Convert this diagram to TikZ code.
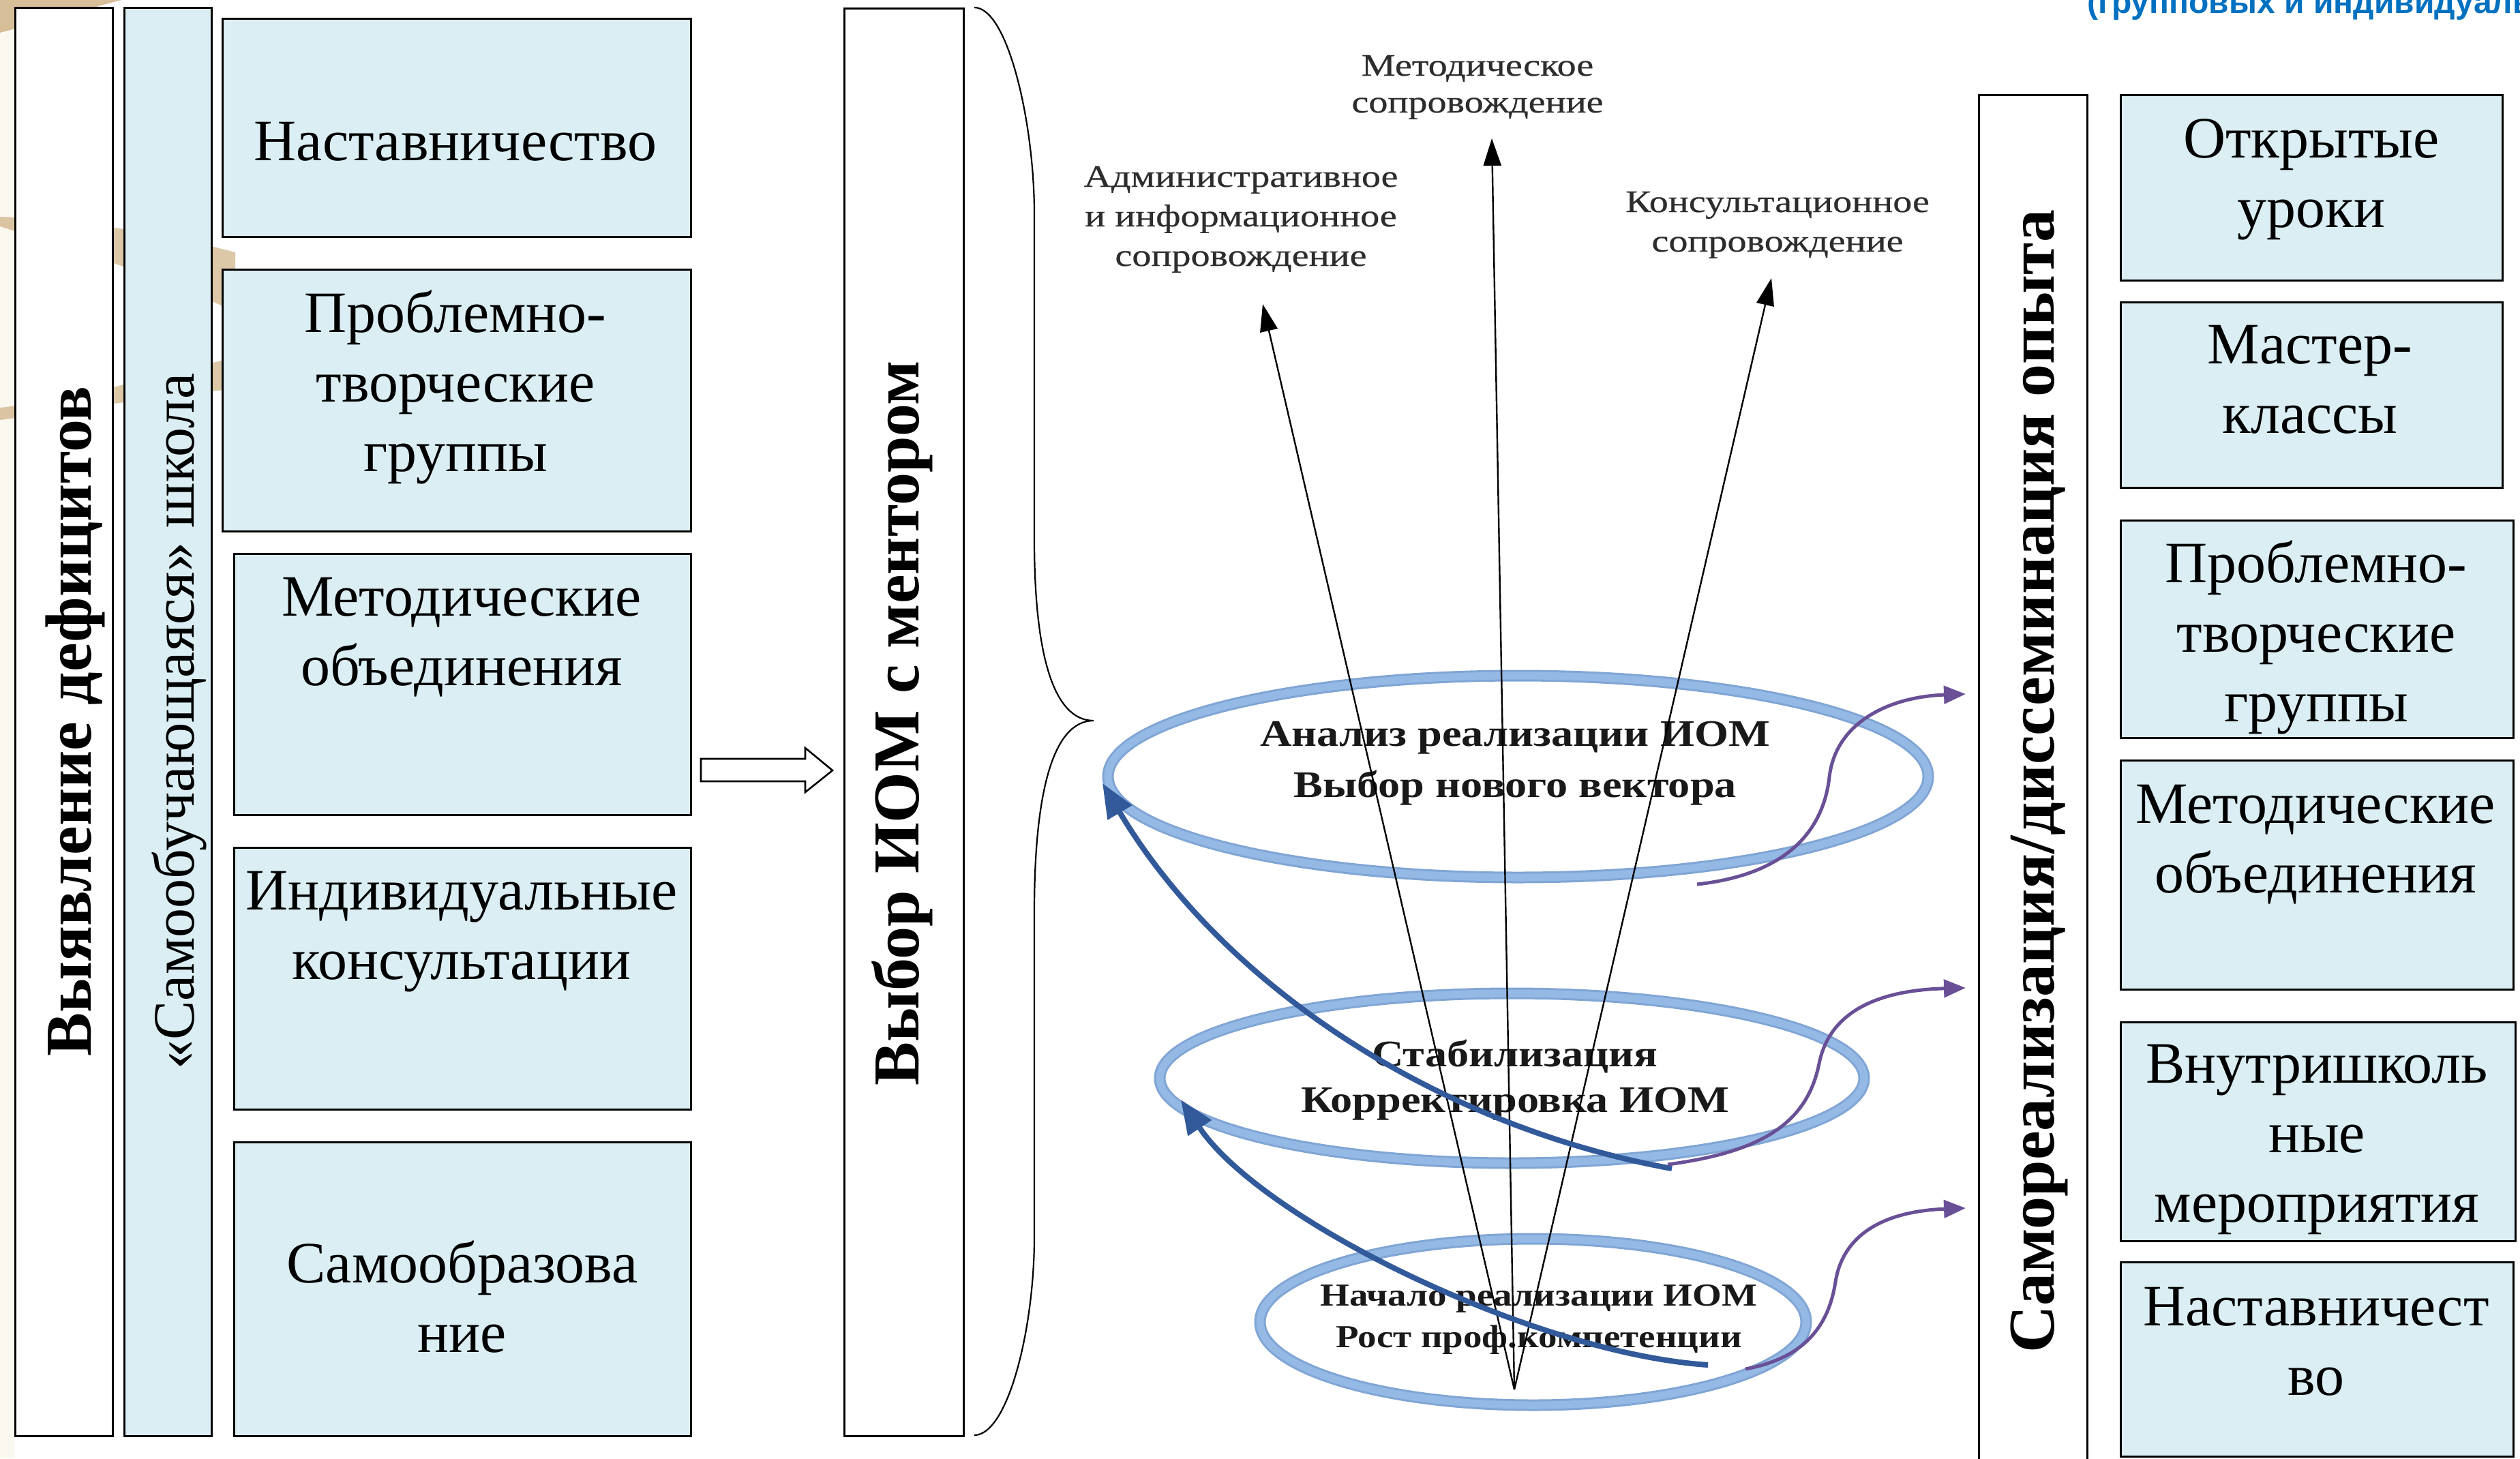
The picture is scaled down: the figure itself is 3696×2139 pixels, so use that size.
\documentclass[tikz,border=0pt]{standalone}
\usepackage{fontspec}
\setmainfont{Liberation Serif}
\newfontfamily\lblfont{Liberation Serif}[FakeStretch=1.22,FakeBold=0.5]
\newfontfamily\ringfont{Liberation Serif}[FakeStretch=1.17]
\newfontfamily\bluefont{Liberation Sans}
\usetikzlibrary{arrows.meta}
\definecolor{boxfill}{HTML}{DAEEF3}
\definecolor{ringdark}{RGB}{128,165,213}
\definecolor{ringlight}{RGB}{148,185,229}
\definecolor{arrblue}{RGB}{50,90,155}
\definecolor{arrpurple}{RGB}{105,80,150}
\definecolor{bgtan}{RGB}{205,175,128}
\definecolor{bgcream}{RGB}{251,248,240}
\definecolor{titleblue}{HTML}{0070C0}
\definecolor{lblgray}{RGB}{45,45,45}
\definecolor{ringtextc}{RGB}{25,25,25}
\begin{document}
\begin{tikzpicture}[x=1pt,y=-1pt,
  bluebox/.style={draw=black, line width=2.6, fill=boxfill, inner sep=0, anchor=north west},
  whitebox/.style={draw=black, line width=2.6, fill=white, inner sep=0, anchor=north west},
  boxtext/.style={font=\fontsize{86}{102}\selectfont, align=center, inner sep=0, anchor=base},
  vbold/.style={font=\bfseries\fontsize{96}{110}\selectfont, rotate=90, anchor=base, inner sep=0},
  vreg/.style={font=\fontsize{86}{100}\selectfont, rotate=90, anchor=base, inner sep=0},
  lbl/.style={font=\lblfont\fontsize{46}{58}\selectfont, text=lblgray, align=center, inner sep=0, anchor=base},
  ringtxt/.style={font=\ringfont\bfseries\fontsize{55}{75}\selectfont, text=ringtextc, align=center, inner sep=0, anchor=base},
  thinarrow/.style={draw=black, line width=2.4, -{Triangle[length=40pt,width=26pt]}},
  bluearrow/.style={draw=arrblue, line width=8, -{Triangle[length=50pt,width=40pt]}},
  purplearrow/.style={draw=arrpurple, line width=5, -{Triangle[length=32pt,width=26pt]}},
  ringdraw/.style={draw=ringdark, line width=17},
  ringinner/.style={draw=ringlight, line width=11}
]
\useasboundingbox (0,0) rectangle (3696,2139);
\clip (0,0) rectangle (3696,2139);

% background decoration
\fill[bgcream] (0,40) rectangle (21,2139);
\fill[bgtan, opacity=0.8] (0,0) -- (178,0) -- (0,48) -- cycle;
\fill[bgtan, opacity=0.7] (0,318) .. controls (120,322) and (250,345) .. (345,370) -- (345,458) .. controls (250,410) and (120,370) .. (0,332) -- cycle;
\fill[bgtan, opacity=0.7] (0,598) .. controls (120,585) and (250,545) .. (330,528) -- (330,572) .. controls (250,578) and (120,600) .. (0,616) -- cycle;

% left column
\node[whitebox, minimum width=143, minimum height=2095] (boxA) at (21,10) {};
\node[bluebox, minimum width=128, minimum height=2095] (boxB) at (181,10) {};
\node[bluebox, minimum width=687, minimum height=320] (L1) at (325,26) {};
\node[bluebox, minimum width=687, minimum height=384] (L2) at (325,394) {};
\node[bluebox, minimum width=670, minimum height=383] (L3) at (342,811) {};
\node[bluebox, minimum width=670, minimum height=384] (L4) at (342,1242) {};
\node[bluebox, minimum width=670, minimum height=431] (L5) at (342,1674) {};

\node[vbold] (tA) at (133,1058) {Выявление дефицитов};
\node[vreg] (tB) at (284,1058) {«Самообучающаяся» школа};

% (anchor=base of a multi-line node = baseline of its last line)
\node[boxtext] (tL1) at (668,235) {Наставничество};
\node[boxtext] (tL2) at (668,691) {Проблемно-\\творческие\\группы};
\node[boxtext] (tL3) at (677,1005) {Методические\\объединения};
\node[boxtext] (tL4) at (677,1436) {Индивидуальные\\консультации};
\node[boxtext] (tL5) at (678,1983) {Самообразова\\ние};

% hollow arrow
\draw[line width=2.6, fill=white, line join=miter] (1028,1113) -- (1181,1113) -- (1181,1097) -- (1221,1130) -- (1181,1162) -- (1181,1146) -- (1028,1146) -- cycle;

% middle box
\node[whitebox, minimum width=175, minimum height=2094] (boxM) at (1237,11) {};
\node[vbold] (tM) at (1347,1061) {Выбор ИОМ с ментором};

% brace
\draw[line width=2.2] (1429,11) .. controls (1478,11) and (1517,180) .. (1517,314) -- (1517,791)
  .. controls (1517,960) and (1545,1057) .. (1604,1057)
  .. controls (1545,1057) and (1517,1160) .. (1517,1337) -- (1517,1814)
  .. controls (1517,1950) and (1478,2105) .. (1429,2105);

% rings
\draw[ringdraw] (2226.5,1139) ellipse [x radius=601.5, y radius=148];
\draw[ringinner] (2226.5,1139) ellipse [x radius=601.5, y radius=148];
\draw[ringdraw] (2217.5,1581.5) ellipse [x radius=516.5, y radius=124.5];
\draw[ringinner] (2217.5,1581.5) ellipse [x radius=516.5, y radius=124.5];
\draw[ringdraw] (2248.5,1939) ellipse [x radius=400.5, y radius=122];
\draw[ringinner] (2248.5,1939) ellipse [x radius=400.5, y radius=122];

% ring texts
\node[ringtxt] (r1) at (2222,1169) {Анализ реализации ИОМ\\Выбор нового вектора};
\node[ringtxt, font=\ringfont\bfseries\fontsize{55}{67}\selectfont] (r2) at (2222,1631) {Стабилизация\\Корректировка ИОМ};
\node[ringtxt, font=\ringfont\bfseries\fontsize{47}{61}\selectfont] (r3) at (2257,1976) {Начало реализации ИОМ\\Рост проф.компетенции};

% top labels
\node[lbl, font=\lblfont\fontsize{46}{54}\selectfont] (lblM) at (2167,165) {Методическое\\сопровождение};
\node[lbl] (lblA) at (1820,390) {Административное\\и информационное\\сопровождение};
\node[lbl] (lblK) at (2607,369) {Консультационное\\сопровождение};

% thin arrows
\coordinate (apex) at (2221,2038);
\coordinate (tipL) at (1852,446);
\coordinate (tipM) at (2188,203);
\coordinate (tipR) at (2598,408);
\draw[thinarrow] (apex) -- (tipL);
\draw[thinarrow] (apex) -- (tipM);
\draw[thinarrow] (apex) -- (tipR);

% blue arrows
\coordinate (b1s) at (2452,1714);
\coordinate (b1e) at (1617,1149);
\coordinate (b2s) at (2505,2002);
\coordinate (b2e) at (1732,1613);
\draw[bluearrow] (b1s) .. controls (2100,1650) and (1790,1440) .. (b1e);
\draw[bluearrow] (b2s) .. controls (2250,1985) and (1850,1790) .. (b2e);

% purple arrows
\coordinate (p1s) at (2489,1297);
\coordinate (p1m) at (2683,1140);
\coordinate (p1e) at (2883,1018);
\coordinate (p2s) at (2446,1708);
\coordinate (p2m) at (2668,1560);
\coordinate (p2e) at (2883,1449);
\coordinate (p3s) at (2560,2008);
\coordinate (p3m) at (2692,1880);
\coordinate (p3e) at (2883,1772);
\draw[purplearrow] (p1s) .. controls (2600,1285) and (2672,1235) .. (p1m) .. controls (2692,1060) and (2770,1022) .. (p1e);
\draw[purplearrow] (p2s) .. controls (2580,1690) and (2650,1650) .. (p2m) .. controls (2685,1475) and (2770,1452) .. (p2e);
\draw[purplearrow] (p3s) .. controls (2630,1995) and (2680,1960) .. (p3m) .. controls (2705,1800) and (2780,1776) .. (p3e);

% right column
\node[whitebox, minimum width=159, minimum height=2020] (boxR) at (2901,138) {};
\node[vbold] (tR) at (3012,1146) {Самореализация/диссеминация опыта};

\node[bluebox, minimum width=560, minimum height=272] (R1) at (3109,138) {};
\node[bluebox, minimum width=560, minimum height=272] (R2) at (3109,442) {};
\node[bluebox, minimum width=576, minimum height=319] (R3) at (3109,762) {};
\node[bluebox, minimum width=576, minimum height=336] (R4) at (3109,1114) {};
\node[bluebox, minimum width=579, minimum height=321] (R5) at (3109,1498) {};
\node[bluebox, minimum width=576, minimum height=285] (R6) at (3109,1850) {};

\node[boxtext] (tR1) at (3390,333) {Открытые\\уроки};
\node[boxtext] (tR2) at (3388,635) {Мастер-\\классы};
\node[boxtext] (tR3) at (3397,1058) {Проблемно-\\творческие\\группы};
\node[boxtext] (tR4) at (3396,1309) {Методические\\объединения};
\node[boxtext] (tR5) at (3398,1792) {Внутришколь\\ные\\мероприятия};
\node[boxtext] (tR6) at (3397,2046) {Наставничест\\во};

% top-right cut title
\node[font=\bluefont\bfseries\fontsize{48}{50}\selectfont, text=titleblue, anchor=base west, inner sep=0] (ttl) at (3061,19) {(групповых и индивидуальных};
\end{tikzpicture}
\end{document}
